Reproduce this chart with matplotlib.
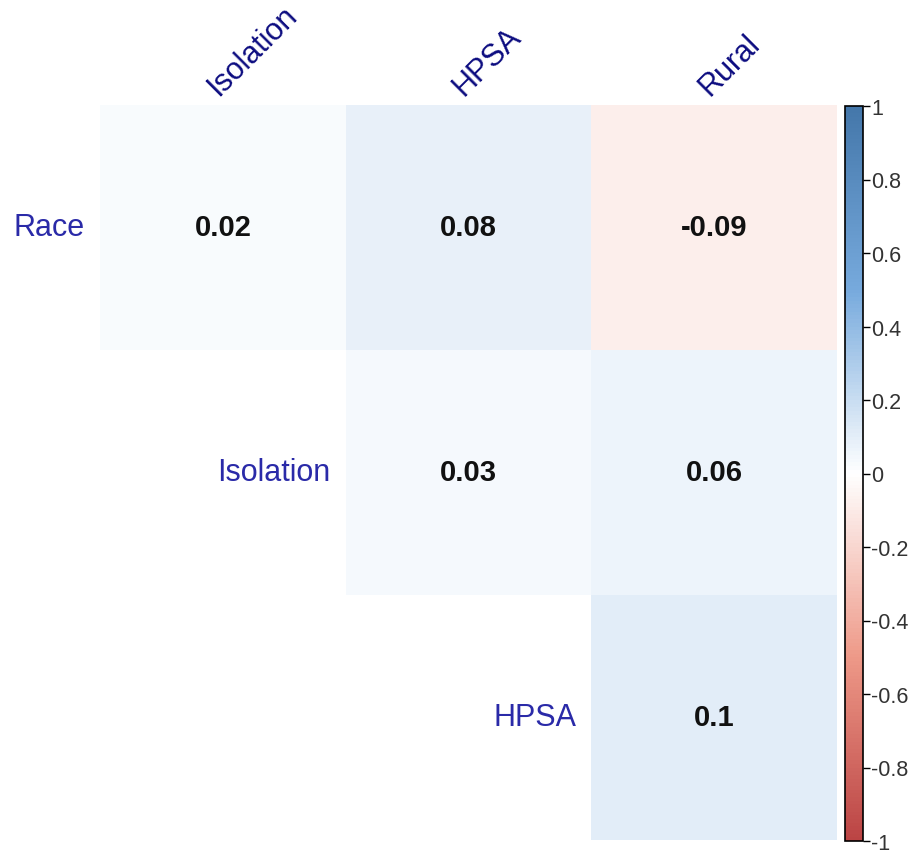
import numpy as np
import matplotlib
matplotlib.use('Agg')
import matplotlib.pyplot as plt
from matplotlib.colors import LinearSegmentedColormap

plt.rcParams['font.family'] = ['Liberation Sans', 'DejaVu Sans']
plt.rcParams['axes.unicode_minus'] = False

# 相関行列（上三角、対角なし）
row_names = ['Race', 'Isolation', 'HPSA']
col_names = ['Isolation', 'HPSA', 'Rural']
corr = np.array([
    [0.02, 0.08, -0.09],
    [np.nan, 0.03, 0.06],
    [np.nan, np.nan, 0.10],
])
cbar_ticks = [-1, -0.8, -0.6, -0.4, -0.2, 0, 0.2, 0.4, 0.6, 0.8, 1]

W, H = 913, 854
fig = plt.figure(figsize=(W / 100, H / 100), dpi=100, facecolor='white')

# corrplotでよく使うパレット
cmap = LinearSegmentedColormap.from_list(
    'corr', ['#BB4444', '#EE9988', '#FFFFFF', '#77AADD', '#4477AA'], N=200)


def px_axes(x0, y0, x1, y1):
    return fig.add_axes([x0 / W, 1 - y1 / H, (x1 - x0) / W, (y1 - y0) / H])


ax = px_axes(100, 106, 837, 841)
n_r, n_c = corr.shape
mesh = ax.pcolormesh(np.arange(n_c + 1), np.arange(n_r + 1),
                     np.ma.masked_invalid(corr), cmap=cmap, vmin=-1, vmax=1)
ax.set_xlim(0, n_c)
ax.set_ylim(n_r, 0)
ax.axis('off')

for i in range(n_r):
    for j in range(n_c):
        v = corr[i, j]
        if np.isnan(v):
            continue
        ax.text(j + 0.5, i + 0.5, '{:g}'.format(round(v, 2)), ha='center', va='center',
                fontsize=21, fontweight='bold', color='#111111')

# 行ラベル：各行の最初のセルの左
for i, name in enumerate(row_names):
    first = np.where(~np.isnan(corr[i]))[0][0]
    ax.annotate(name, xy=(first, i + 0.5), xytext=(-11, 0), textcoords='offset points',
                ha='right', va='center', fontsize=22, color='#2a2aa8')

# 列ラベル：45度回転
for j, name in enumerate(col_names):
    ax.annotate(name, xy=(j + 0.5, 0), xytext=(0, 3), textcoords='offset points',
                ha='left', va='bottom', rotation=45, rotation_mode='anchor',
                fontsize=22, color='#0c0c80', annotation_clip=False)

# カラーバー
cax = px_axes(845, 107, 863, 842)
cb = fig.colorbar(mesh, cax=cax, ticks=cbar_ticks)
cb.outline.set_linewidth(1.2)
cb.outline.set_edgecolor('black')
cb.ax.set_yticklabels(['{:g}'.format(t) for t in cbar_ticks])
cb.ax.tick_params(labelsize=15.5, length=5, width=1, colors='black', labelcolor='#333333', pad=1)

fig.savefig('out.png', dpi=100, facecolor='white')
